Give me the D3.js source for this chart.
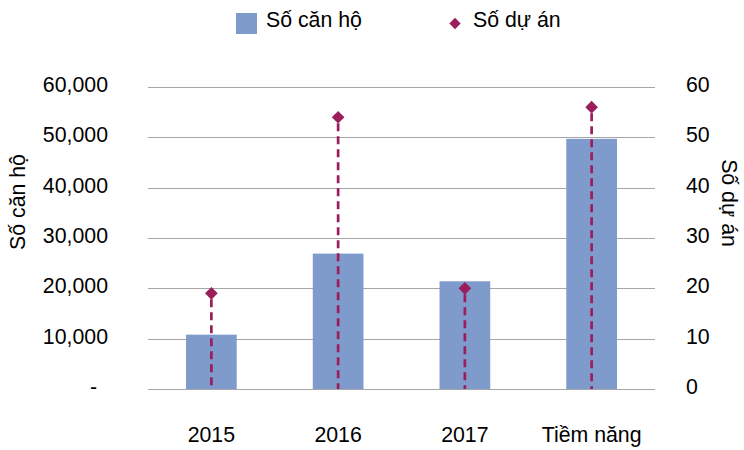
<!DOCTYPE html>
<html>
<head>
<meta charset="utf-8">
<script src="https://cdn.jsdelivr.net/npm/d3@7"></script>
<style>
  html, body { margin: 0; padding: 0; background: #fff; }
  svg { display: block; font-family: "Liberation Sans", Arial, sans-serif; }
</style>
</head>
<body>
<svg id="chart" width="744" height="450"></svg>
<script>
const categories = ["2015", "2016", "2017", "Tiềm năng"];
const apartments = [10800, 26900, 21400, 49700];
const projects = [19, 54, 20, 56];
const leftTicks = [0, 10000, 20000, 30000, 40000, 50000, 60000];
const leftTickLabels = ["-", "10,000", "20,000", "30,000", "40,000", "50,000", "60,000"];
const rightTicks = [0, 10, 20, 30, 40, 50, 60];
const rightTickLabels = ["0", "10", "20", "30", "40", "50", "60"];
const seriesNames = ["Số căn hộ", "Số dự án"];
const axisTitles = ["Số căn hộ", "Số dự án"];

const svg = d3.select("#chart");
const plot = { left: 148, right: 655, top: 87, bottom: 389 };
const barColor = "#7f9bcb";
const markColor = "#9b1d5c";
const gridColor = "#a6a6a6";
const fontSize = 21.3;

const x = d3.scaleBand().domain(categories).range([plot.left, plot.right]).padding(0);
const yL = d3.scaleLinear().domain([0, 60000]).range([plot.bottom, plot.top]);
const yR = d3.scaleLinear().domain([0, 60]).range([plot.bottom, plot.top]);

// gridlines
svg.append("g").selectAll("line").data(leftTicks).join("line")
  .attr("x1", plot.left).attr("x2", plot.right)
  .attr("y1", d => Math.round(yL(d)) + 0.5).attr("y2", d => Math.round(yL(d)) + 0.5)
  .attr("stroke", gridColor).attr("stroke-width", 1.2);

// bars
const barW = x.bandwidth() * 0.4;
svg.append("g").selectAll("rect").data(categories).join("rect")
  .attr("x", d => x(d) + x.bandwidth() / 2 - barW / 2)
  .attr("width", barW)
  .attr("y", (d, i) => yL(apartments[i]))
  .attr("height", (d, i) => yL(0) - yL(apartments[i]))
  .attr("fill", barColor);

// drop lines
svg.append("g").selectAll("line").data(categories).join("line")
  .attr("x1", d => x(d) + x.bandwidth() / 2).attr("x2", d => x(d) + x.bandwidth() / 2)
  .attr("y1", (d, i) => yR(projects[i]) + 6).attr("y2", yR(0))
  .attr("stroke", markColor).attr("stroke-width", 2.7)
  .attr("stroke-dasharray", "8,5");

// diamonds
const diamond = d3.symbol().type(d3.symbolSquare).size(80);
svg.append("g").selectAll("path").data(categories).join("path")
  .attr("d", diamond)
  .attr("transform", (d, i) => `translate(${x(d) + x.bandwidth() / 2},${yR(projects[i])}) rotate(45)`)
  .attr("fill", markColor);

// left axis labels
svg.append("g").selectAll("text").data(leftTicks).join("text")
  .attr("x", (d, i) => i === 0 ? 97 : 108)
  .attr("y", d => yL(d) - 2)
  .attr("text-anchor", "end")
  .attr("dominant-baseline", "central")
  .attr("font-size", fontSize).attr("fill", "#000")
  .text((d, i) => leftTickLabels[i]);

// right axis labels
svg.append("g").selectAll("text").data(rightTicks).join("text")
  .attr("x", 686)
  .attr("y", d => yR(d) - 2)
  .attr("text-anchor", "start")
  .attr("dominant-baseline", "central")
  .attr("font-size", fontSize).attr("fill", "#000")
  .text((d, i) => rightTickLabels[i]);

// category labels
svg.append("g").selectAll("text").data(categories).join("text")
  .attr("x", d => x(d) + x.bandwidth() / 2)
  .attr("y", 442)
  .attr("text-anchor", "middle")
  .attr("font-size", fontSize).attr("fill", "#000")
  .text(d => d);

// axis titles
svg.append("text")
  .attr("transform", "translate(25,202) rotate(-90)")
  .attr("text-anchor", "middle")
  .attr("font-size", fontSize).attr("fill", "#000")
  .text(axisTitles[0]);
svg.append("text")
  .attr("transform", "translate(722,203) rotate(90)")
  .attr("text-anchor", "middle")
  .attr("font-size", fontSize).attr("fill", "#000")
  .text(axisTitles[1]);

// legend
const lg = svg.append("g");
lg.append("rect").attr("x", 236).attr("y", 13).attr("width", 21).attr("height", 21).attr("fill", barColor);
lg.append("text").attr("x", 266).attr("y", 27).attr("font-size", fontSize).attr("fill", "#000").text(seriesNames[0]);
lg.append("path").attr("d", d3.symbol().type(d3.symbolSquare).size(64))
  .attr("transform", "translate(455,23.5) rotate(45)").attr("fill", markColor);
lg.append("text").attr("x", 473).attr("y", 27).attr("font-size", fontSize).attr("fill", "#000").text(seriesNames[1]);
</script>
</body>
</html>
